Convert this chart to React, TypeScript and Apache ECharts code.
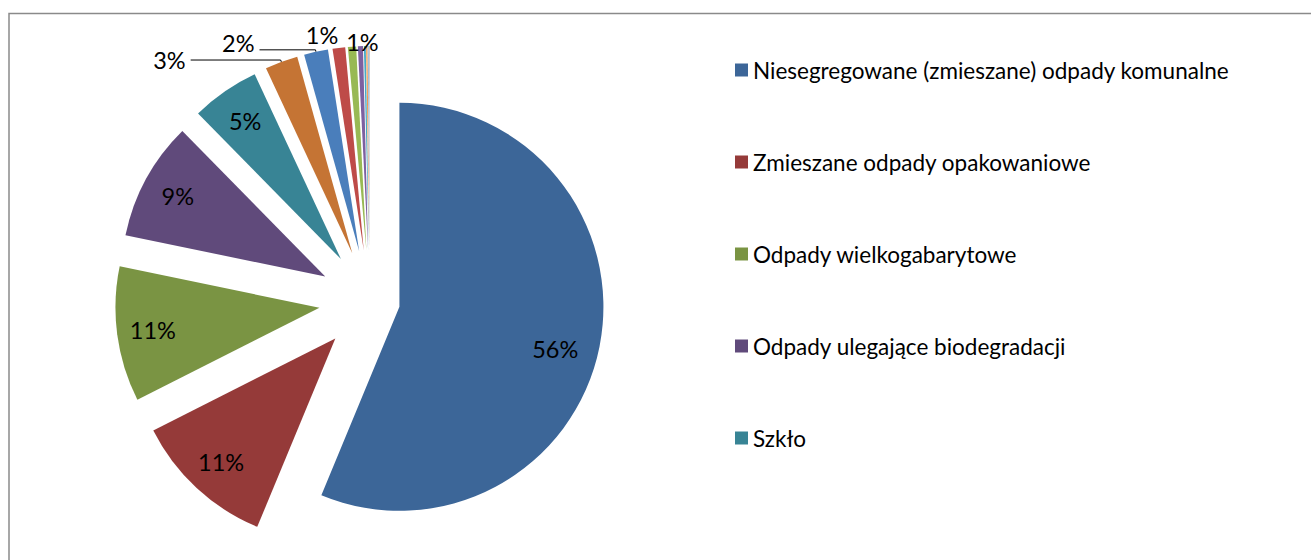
import React, { useEffect, useRef } from "react";
import * as echarts from "echarts";

const categories = [
  "Niesegregowane (zmieszane) odpady komunalne",
  "Zmieszane odpady opakowaniowe",
  "Odpady wielkogabarytowe",
  "Odpady ulegające biodegradacji",
  "Szkło",
  "Kategoria 6",
  "Kategoria 7",
  "Kategoria 8",
  "Kategoria 9",
  "Kategoria 10",
  "Kategoria 11",
  "Kategoria 12",
  "Kategoria 13",
  "Kategoria 14",
];
const values = [56.25, 11.3, 10.7, 9.4, 5.4, 2.6, 1.9, 1.0, 0.65, 0.4, 0.15, 0.1, 0.08, 0.07];
const colors = [
  "#3C6698", "#953A39", "#7A9443", "#604A7B", "#388495", "#C57434",
  "#4A7EBB", "#BE4B48", "#98B954", "#7D60A0", "#46AAC5", "#F69240",
  "#95B3D7", "#C0C0C0",
];
const legendNames = categories.slice(0, 5);

const FONT = "Lato, 'Noto Sans', sans-serif";
const TRANSPARENT = "rgba(0,0,0,0)";
const CENTER = [370, 301];
const RADIUS = 204;
const BIG_OFFSET = 30; // first slice
const OFFSET = 51; // all other slices

export default function App() {
  const ref = useRef<HTMLDivElement>(null);
  useEffect(() => {
    if (!ref.current) return;
    const chart = echarts.init(ref.current, undefined, { renderer: "svg" });
    const fmt = (p: any) => Math.round(p.percent) + "%";

    const outsideLabel: Record<number, any> = {
      5: { label: { show: true }, labelLine: { show: true, length: 2, length2: 90 } },
      6: { label: { show: true }, labelLine: { show: true, length: 2, length2: 56 } },
      7: { label: { show: true }, labelLine: { show: false, length: 13, length2: 0 } },
      8: { label: { show: true }, labelLine: { show: false, length: 5, length2: 0 } },
    };
    const nudges: Record<number, { dx: number; dy: number }> = {
      6: { dx: 0, dy: -7 },
      7: { dx: 6, dy: 0 },
      8: { dx: 32, dy: 0 },
    };
    const bigNudges: Record<number, { dx: number; dy: number }> = {
      0: { dx: -4, dy: 10 },
    };

    const common = {
      type: "pie",
      center: CENTER,
      startAngle: 90,
      clockwise: true,
      selectedMode: "multiple",
      avoidLabelOverlap: false,
      percentPrecision: 4,
      emphasis: { disabled: true },
      silent: true,
    };
    const labelStyle = {
      formatter: fmt,
      fontFamily: FONT,
      fontSize: 23.5,
      color: "#000",
    };

    const restData = values.map((v, i) => ({
      name: categories[i],
      value: v,
      selected: true,
      itemStyle: { color: i === 0 ? TRANSPARENT : colors[i] },
      label: { show: false },
      labelLine: { show: false },
      ...(outsideLabel[i] || {}),
    }));
    const bigData = values.map((v, i) => ({
      name: categories[i],
      value: v,
      selected: true,
      itemStyle: { color: i === 0 ? colors[0] : TRANSPARENT },
    }));
    const restLabelData = values.map((v, i) => ({
      name: categories[i],
      value: v,
      selected: true,
      itemStyle: { color: TRANSPARENT },
      label: { show: i >= 1 && i <= 4 },
    }));
    const bigLabelData = values.map((v, i) => ({
      name: categories[i],
      value: v,
      selected: true,
      itemStyle: { color: TRANSPARENT },
      label: { show: i === 0 },
    }));

    chart.setOption({
      animation: false,
      backgroundColor: "#ffffff",
      textStyle: { fontFamily: FONT },
      graphic: [
        {
          type: "rect",
          z: -1,
          shape: { x: 9, y: 13.5, width: 1400, height: 700 },
          style: { fill: "none", stroke: "#8a8a8a", lineWidth: 1.5 },
        },
      ],
      legend: {
        data: legendNames.map((n, i) => ({ name: n, itemStyle: { color: colors[i] } })),
        orient: "vertical",
        left: 730,
        top: 52,
        itemWidth: 13,
        itemHeight: 13,
        itemGap: 66,
        icon: "rect",
        selectedMode: false,
        textStyle: {
          fontFamily: FONT,
          fontSize: 22.5,
          lineHeight: 26,
          color: "#000",
        },
      },
      series: [
        {
          ...common,
          name: "rest",
          radius: [0, RADIUS],
          selectedOffset: OFFSET,
          data: restData,
          label: { position: "outside", ...labelStyle },
          labelLine: { lineStyle: { color: "#000", width: 1 }, smooth: false },
          labelLayout: (p: any) => nudges[p.dataIndex] || {},
        },
        {
          ...common,
          name: "big",
          radius: [0, RADIUS],
          selectedOffset: BIG_OFFSET,
          data: bigData,
          label: { show: false },
          labelLine: { show: false },
        },
        {
          ...common,
          name: "restLabels",
          radius: [145, 185],
          selectedOffset: OFFSET,
          data: restLabelData,
          label: { position: "inside", ...labelStyle },
          labelLine: { show: false },
        },
        {
          ...common,
          name: "bigLabels",
          radius: [140, 180],
          selectedOffset: BIG_OFFSET,
          data: bigLabelData,
          label: { position: "inside", ...labelStyle },
          labelLine: { show: false },
          labelLayout: (p: any) => bigNudges[p.dataIndex] || {},
        },
      ],
    });
    return () => chart.dispose();
  }, []);
  return (
    <div
      ref={ref}
      style={{ position: "fixed", left: 0, top: 0, width: 1311, height: 560 }}
    />
  );
}
